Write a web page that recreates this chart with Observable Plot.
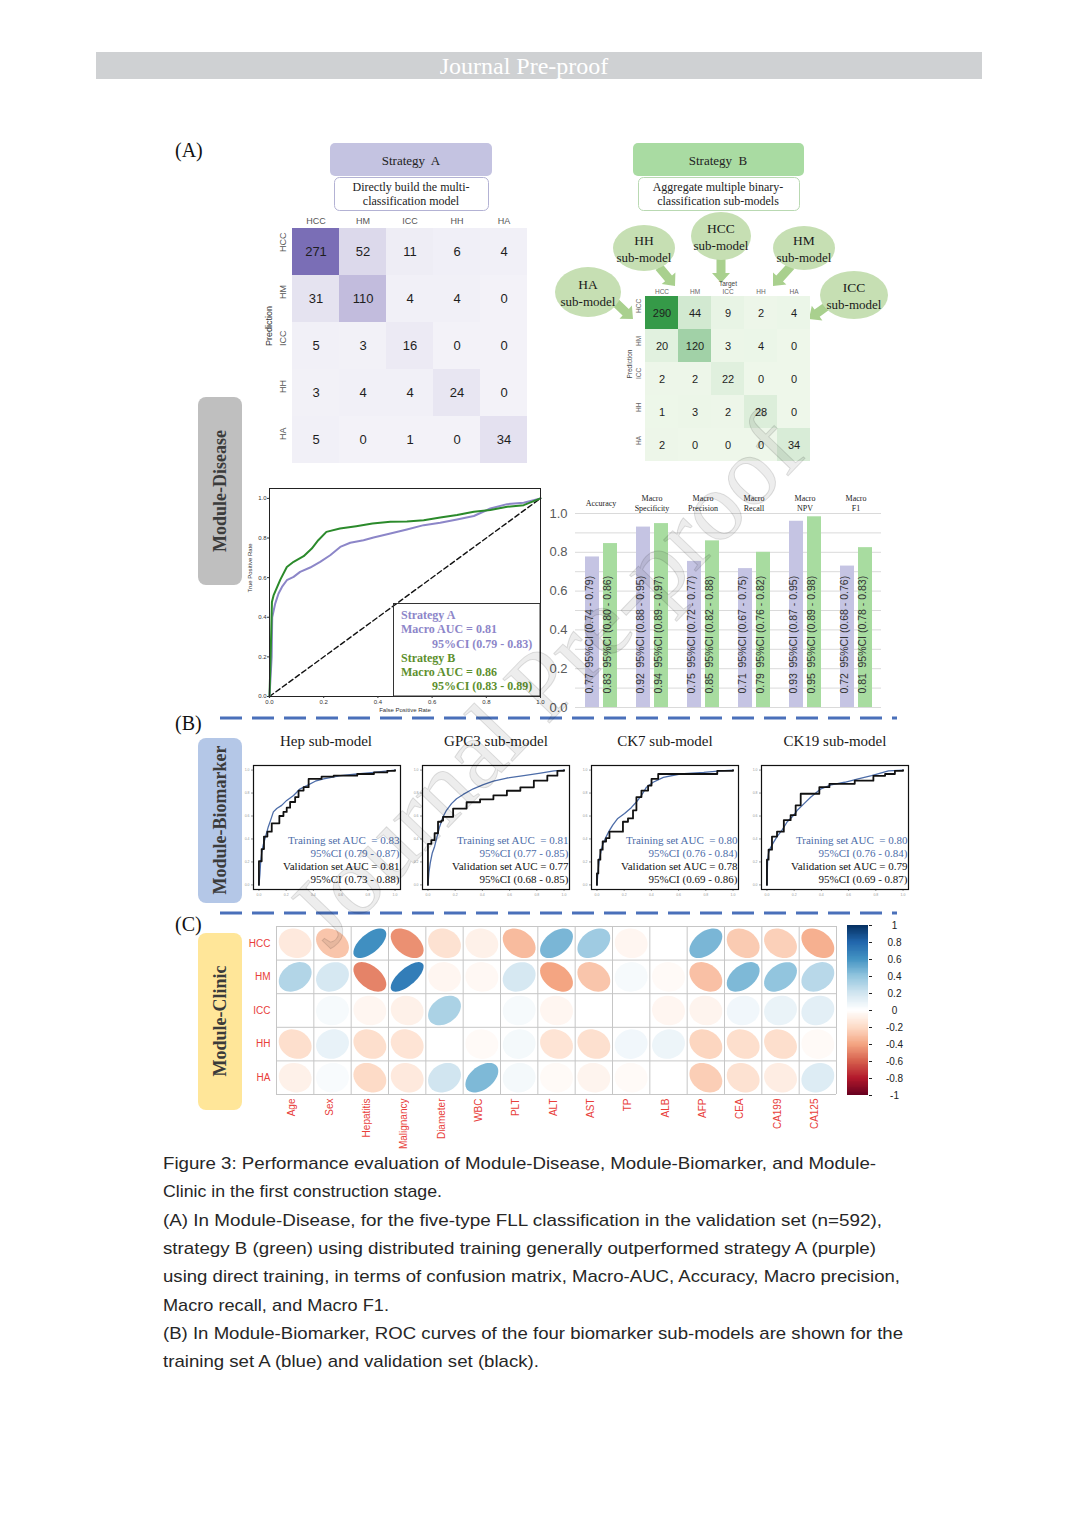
<!DOCTYPE html>
<html><head><meta charset="utf-8">
<script src="https://cdn.jsdelivr.net/npm/d3@7"></script>
<script src="https://cdn.jsdelivr.net/npm/@observablehq/plot@0.6"></script>
<style>
html,body{margin:0;padding:0;background:#fff;}
#page{position:relative;width:1080px;height:1527px;overflow:hidden;background:#fff;}
.box{position:absolute;}
.box svg{display:block;max-width:none;}
svg.layer{position:absolute;left:0;top:0;pointer-events:none;}
</style></head><body><div id="page"></div>
<script>
const SANS = "'Liberation Sans', Arial, sans-serif";
const SERIF = "'Liberation Serif', 'Times New Roman', serif";

// ---------------- DATA ----------------
const classes = ["HCC", "HM", "ICC", "HH", "HA"];
const confA = [[271, 52, 11, 6, 4], [31, 110, 4, 4, 0], [5, 3, 16, 0, 0], [3, 4, 4, 24, 0], [5, 0, 1, 0, 34]];
const confB = [[290, 44, 9, 2, 4], [20, 120, 3, 4, 0], [2, 2, 22, 0, 0], [1, 3, 2, 28, 0], [2, 0, 0, 0, 34]];

const rocTicks = [0, 0.2, 0.4, 0.6, 0.8, 1];
const chance = [0, 1];
const rocA = [[0,0],[0.008,0.2],[0.01,0.40],[0.021,0.469],[0.033,0.519],[0.046,0.553],[0.064,0.587],[0.089,0.604],[0.113,0.629],[0.15,0.651],[0.187,0.68],[0.224,0.713],[0.261,0.755],[0.298,0.776],[0.347,0.789],[0.384,0.803],[0.446,0.823],[0.507,0.843],[0.569,0.865],[0.63,0.877],[0.692,0.894],[0.754,0.911],[0.815,0.949],[0.877,0.971],[0.938,0.978],[1,1]];
const rocB = [[0,0],[0.005,0.25],[0.009,0.477],[0.015,0.51],[0.04,0.59],[0.064,0.654],[0.089,0.68],[0.126,0.708],[0.156,0.747],[0.18,0.789],[0.21,0.831],[0.26,0.848],[0.32,0.86],[0.38,0.873],[0.446,0.882],[0.507,0.884],[0.569,0.89],[0.63,0.904],[0.692,0.916],[0.754,0.933],[0.815,0.941],[0.877,0.958],[0.938,0.966],[1,1]];
const strategyNames = ["Strategy A", "Strategy B"];
const macroAUC = ["0.81", "0.86"];
const macroCI = ["0.79 - 0.83", "0.83 - 0.89"];

const metricKeys = ["Accuracy", "Specificity", "Precision", "Recall", "NPV", "F1"];
const metricLabels = ["Accuracy", "Macro\nSpecificity", "Macro\nPrecision", "Macro\nRecall", "Macro\nNPV", "Macro\nF1"];
const barA = [0.776, 0.93, 0.753, 0.716, 0.96, 0.729];
const barB = [0.845, 0.948, 0.859, 0.80, 0.983, 0.824];
const valA = ["0.77", "0.92", "0.75", "0.71", "0.93", "0.72"];
const valB = ["0.83", "0.94", "0.85", "0.79", "0.95", "0.81"];
const ciA = ["0.74 - 0.79", "0.88 - 0.95", "0.72 - 0.77", "0.67 - 0.75", "0.87 - 0.95", "0.68 - 0.76"];
const ciB = ["0.80 - 0.86", "0.89 - 0.97", "0.82 - 0.88", "0.76 - 0.82", "0.89 - 0.98", "0.78 - 0.83"];
const barTicks = [0, 0.2, 0.4, 0.6, 0.8, 1.0];
const gridTicks = [0, 0.1, 0.2, 0.3, 0.4, 0.5, 0.6, 0.7, 0.8, 0.9, 1.0];

const subNames = ["Hep sub-model", "GPC3 sub-model", "CK7 sub-model", "CK19 sub-model"];
const trainAUC = ["0.83", "0.81", "0.80", "0.80"];
const trainCI = ["0.79 - 0.87", "0.77 - 0.85", "0.76 - 0.84", "0.76 - 0.84"];
const valAUC = ["0.81", "0.77", "0.78", "0.79"];
const valCI = ["0.73 - 0.88", "0.68 - 0.85", "0.69 - 0.86", "0.69 - 0.87"];
const hepTrain = [[0,0],[0.007,0.092],[0.012,0.192],[0.02,0.278],[0.032,0.35],[0.052,0.436],[0.069,0.507],[0.086,0.564],[0.106,0.636],[0.131,0.665],[0.167,0.693],[0.204,0.736],[0.254,0.779],[0.303,0.837],[0.352,0.865],[0.414,0.903],[0.475,0.923],[0.599,0.951],[0.722,0.966],[0.845,0.98],[1,1]];
const hepVal = [[0,0],[0,0.206],[0.02,0.312],[0.037,0.421],[0.062,0.464],[0.094,0.536],[0.15,0.6],[0.18,0.636],[0.204,0.673],[0.229,0.722],[0.266,0.765],[0.291,0.822],[0.328,0.851],[0.365,0.923],[0.46,0.943],[0.549,0.951],[0.722,0.966],[0.845,0.98],[0.943,0.994],[1,1]];
const gpc3Train = [[0,0],[0.007,0.106],[0.017,0.192],[0.032,0.278],[0.049,0.335],[0.067,0.421],[0.086,0.507],[0.111,0.593],[0.136,0.65],[0.173,0.708],[0.21,0.751],[0.259,0.788],[0.333,0.837],[0.407,0.874],[0.481,0.903],[0.58,0.931],[0.704,0.951],[0.827,0.974],[0.926,0.994],[1,1]];
const gpc3Val = [[0,0],[0,0.358],[0.025,0.39],[0.049,0.45],[0.074,0.55],[0.099,0.56],[0.111,0.593],[0.185,0.665],[0.284,0.72],[0.383,0.745],[0.481,0.78],[0.58,0.82],[0.679,0.85],[0.778,0.908],[0.877,0.951],[0.951,0.994],[1,1]];
const ck7Train = [[0,0],[0.007,0.106],[0.017,0.22],[0.03,0.292],[0.042,0.35],[0.062,0.407],[0.087,0.464],[0.116,0.521],[0.153,0.579],[0.203,0.622],[0.252,0.673],[0.29,0.722],[0.327,0.779],[0.364,0.851],[0.413,0.894],[0.488,0.937],[0.611,0.966],[0.785,0.98],[0.908,0.994],[1,1]];
const ck7Val = [[0,0],[0,0.1],[0.01,0.22],[0.025,0.307],[0.042,0.378],[0.067,0.407],[0.092,0.464],[0.191,0.55],[0.228,0.579],[0.265,0.65],[0.29,0.765],[0.327,0.822],[0.376,0.865],[0.401,0.923],[0.45,0.966],[0.884,0.994],[1,1]];
const ck19Train = [[0,0],[0.005,0.22],[0.012,0.278],[0.025,0.321],[0.045,0.364],[0.074,0.421],[0.112,0.479],[0.149,0.55],[0.186,0.593],[0.223,0.65],[0.273,0.708],[0.323,0.765],[0.397,0.837],[0.471,0.871],[0.571,0.894],[0.67,0.923],[0.769,0.951],[0.893,0.994],[1,1]];
const ck19Val = [[0,0],[0,0.22],[0.012,0.307],[0.037,0.421],[0.074,0.464],[0.124,0.564],[0.174,0.607],[0.211,0.693],[0.248,0.794],[0.385,0.851],[0.459,0.88],[0.645,0.908],[0.782,0.95],[0.868,0.966],[0.94,0.994],[1,1]];

const clinVars = ["Age","Sex","Hepatitis","Malignancy","Diameter","WBC","PLT","ALT","AST","TP","ALB","AFP","CEA","CA199","CA125"];
const corrRowNames = ["HCC","HM","ICC","HH","HA"];
const corrHCC = [-0.12,-0.28,0.62,-0.46,-0.16,-0.08,-0.32,0.46,0.36,-0.05,0,0.46,-0.26,-0.24,-0.36];
const corrHM  = [0.3,0.18,-0.5,0.7,-0.05,-0.04,0.18,-0.4,-0.28,0.04,-0.03,-0.3,0.45,0.4,0.28];
const corrICC = [0,0.04,-0.05,-0.08,0.32,0,0.04,-0.05,0,0,-0.05,-0.06,0.06,0.09,0.12];
const corrHH  = [-0.18,0.1,-0.18,-0.15,0,-0.03,0.05,-0.15,-0.17,0.06,0.08,-0.22,-0.18,-0.18,-0.03];
const corrHA  = [-0.08,0.03,-0.2,-0.12,0.2,0.45,0.05,-0.03,-0.06,-0.03,0,-0.25,-0.16,-0.1,0.15];
const corrStops = [-1,-0.8,-0.6,-0.4,-0.2,0,0.2,0.4,0.6,0.8,1];
const corrColors = ["#67001F","#B2182B","#D6604D","#F4A582","#FDDBC7","#FFFFFF","#D1E5F0","#92C5DE","#4393C3","#2166AC","#053061"];
const cbTicks = [1,0.8,0.6,0.4,0.2,0,-0.2,-0.4,-0.6,-0.8,-1];

const captionLines = [
 "Figure 3: Performance evaluation of Module-Disease, Module-Biomarker, and Module-",
 "Clinic in the first construction stage.",
 "(A) In Module-Disease, for the five-type FLL classification in the validation set (n=592),",
 "strategy B (green) using distributed training generally outperformed strategy A (purple)",
 "using direct training, in terms of confusion matrix, Macro-AUC, Accuracy, Macro precision,",
 "Macro recall, and Macro F1.",
 "(B) In Module-Biomarker, ROC curves of the four biomarker sub-models are shown for the",
 "training set A (blue) and validation set (black)."
];

// ---------------- helpers ----------------
const page = document.getElementById("page");
function place(node, left, top, z = 1) {
  const d = document.createElement("div");
  d.className = "box"; d.style.left = left + "px"; d.style.top = top + "px"; d.style.zIndex = z;
  d.appendChild(node); page.appendChild(d);
}
function layer(content, z) {
  const s = document.createElementNS("http://www.w3.org/2000/svg", "svg");
  s.setAttribute("width", 1080); s.setAttribute("height", 1527); s.setAttribute("class", "layer");
  s.style.zIndex = z; s.innerHTML = content; page.appendChild(s);
}
const esc = s => String(s).replace(/&/g, "&amp;").replace(/</g, "&lt;").replace(/>/g, "&gt;");
function T(x, y, str, o = {}) {
  const {size = 12, fill = "#222", family = SERIF, weight = "normal", anchor = "middle", rotate = 0, extra = ""} = o;
  const tr = rotate ? ` transform="rotate(${rotate} ${x} ${y})"` : "";
  return `<text x="${x}" y="${y}" font-size="${size}" fill="${fill}" font-family="${family}" font-weight="${weight}" text-anchor="${anchor}" dominant-baseline="central"${tr}${extra}>${esc(str)}</text>`;
}
function arrow(x1, y1, x2, y2, shaft = 4.5, head = 9, headLen = 10) {
  const dx = x2 - x1, dy = y2 - y1, L = Math.hypot(dx, dy), ux = dx / L, uy = dy / L, px = -uy, py = ux;
  const bx = x2 - ux * headLen, by = y2 - uy * headLen;
  const pts = [[x1 + px * shaft, y1 + py * shaft], [bx + px * shaft, by + py * shaft], [bx + px * head, by + py * head], [x2, y2], [bx - px * head, by - py * head], [bx - px * shaft, by - py * shaft], [x1 - px * shaft, y1 - py * shaft]];
  return `<polygon points="${pts.map(p => p.map(v => v.toFixed(1)).join(",")).join(" ")}" fill="#a9d08e"/>`;
}
const baseStyle = {background: "transparent", fontFamily: SANS, overflow: "visible"};

// ---------------- base decoration layer ----------------
let b = "";
b += `<rect x="96" y="52" width="886" height="27" fill="#cfd1d3"/>`;
b += T(524, 66, "Journal Pre-proof", {size: 24, fill: "#ffffff"});
b += T(175, 150, "(A)", {size: 20, anchor: "start", fill: "#111"});
b += T(175, 723, "(B)", {size: 20, anchor: "start", fill: "#111"});
b += T(175, 924, "(C)", {size: 20, anchor: "start", fill: "#111"});
// Strategy A header
b += `<rect x="330" y="143" width="162" height="33" rx="5" fill="#c4c3e1"/>`;
b += T(411, 160, "Strategy\u00a0 A", {size: 13});
b += `<rect x="334.5" y="177.5" width="154" height="33" rx="5" fill="#fff" stroke="#b3b2d4"/>`;
b += T(411, 187, "Directly build the multi-", {size: 12});
b += T(411, 201, "classification model", {size: 12});
// Strategy B header
b += `<rect x="633" y="143" width="171" height="33" rx="5" fill="#a9dba2"/>`;
b += T(718, 160, "Strategy\u00a0 B", {size: 13});
b += `<rect x="638.5" y="177.5" width="161" height="33" rx="5" fill="#fff" stroke="#b9d9b2"/>`;
b += T(718, 187, "Aggregate multiple binary-", {size: 12});
b += T(718, 201, "classification sub-models", {size: 12});
// sub-model bubbles
const bubbles = [["HH", 644, 248, 31, 23], ["HCC", 721, 236, 30, 24], ["HM", 804, 248, 31, 22], ["HA", 588, 292, 33, 25], ["ICC", 854, 295, 34, 24]];
b += arrow(721, 259, 721, 283);
b += arrow(659, 267, 675, 286);
b += arrow(791, 266, 773, 286);
b += arrow(616, 303, 633, 319);
b += arrow(827, 306, 809, 319);
for (const [nm, cx, cy, rx, ry] of bubbles) {
  b += `<ellipse cx="${cx}" cy="${cy}" rx="${rx}" ry="${ry}" fill="#c6dfb3"/>`;
  b += T(cx, cy - 8, nm, {size: 13.5, fill: "#1a1a1a"});
  b += T(cx, cy + 9, "sub-model", {size: 13, fill: "#1a1a1a"});
}
// Module boxes
b += `<rect x="198" y="397" width="44" height="188" rx="8" fill="#bfbfbf"/>`;
b += T(220, 491, "Module-Disease", {size: 18, weight: "bold", rotate: -90, fill: "#3b3b3b"});
b += `<rect x="198" y="738" width="44" height="165" rx="8" fill="#b4c7e7"/>`;
b += T(220, 820, "Module-Biomarker", {size: 18, weight: "bold", rotate: -90, fill: "#3b3b3b"});
b += `<rect x="198" y="933" width="44" height="177" rx="8" fill="#ffe699"/>`;
b += T(220, 1021, "Module-Clinic", {size: 18, weight: "bold", rotate: -90, fill: "#3b3b3b"});
// dashed separators
b += `<line x1="220" y1="718" x2="897" y2="718" stroke="#4a70ba" stroke-width="3" stroke-dasharray="22 10"/>`;
b += `<line x1="220" y1="913" x2="897" y2="913" stroke="#4a70ba" stroke-width="3" stroke-dasharray="22 10"/>`;
// sub-model titles
const subCenters = [326, 496, 665, 835];
subNames.forEach((nm, i) => { b += T(subCenters[i], 741, nm, {size: 15, fill: "#1a1a1a"}); });
// caption
const capY = [1163, 1191.5, 1220, 1248, 1276.5, 1305, 1333, 1361.5];
const capLen = [713, 279, 719, 713, 737, 226, 740, 376];
captionLines.forEach((ln, i) => {
  b += T(163, capY[i], ln, {size: 17, family: SANS, anchor: "start", fill: "#262626", extra: ` textLength="${capLen[i]}" lengthAdjust="spacingAndGlyphs"`});
});
layer(b, 0);

// ---------------- Confusion matrix A ----------------
const tabA = confA.flatMap((row, i) => row.map((n, j) => ({p: classes[i], t: classes[j], n})));
const cmA = Plot.plot({
  width: 30 + 235 + 4, height: 14 + 235 + 4,
  marginLeft: 30, marginRight: 4, marginTop: 14, marginBottom: 4,
  style: baseStyle,
  x: {domain: classes, padding: 0, axis: null}, y: {domain: classes, padding: 0, axis: null},
  color: {type: "linear", domain: [0, 271], range: ["#f3f2f8", "#7a6eb6"]},
  marks: [
    Plot.cell(tabA, {x: "t", y: "p", fill: "n"}),
    Plot.text(tabA, {x: "t", y: "p", text: "n", fontSize: 13, fill: "#1e1e1e"}),
    Plot.text(classes, {x: d => d, text: d => d, frameAnchor: "top", lineAnchor: "middle", dy: -7, fontSize: 9, fill: "#555"}),
    Plot.text(classes, {y: d => d, text: d => d, frameAnchor: "left", rotate: -90, dx: -9, fontSize: 9, fill: "#555"}),
    Plot.text(["Prediction"], {text: d => d, frameAnchor: "left", rotate: -90, dx: -23, fontSize: 9, fill: "#333"})
  ]
});
place(cmA, 262, 214);

// ---------------- Confusion matrix B ----------------
const tabB = confB.flatMap((row, i) => row.map((n, j) => ({p: classes[i], t: classes[j], n})));
const cmB = Plot.plot({
  width: 20 + 165 + 4, height: 14 + 166 + 4,
  marginLeft: 20, marginRight: 4, marginTop: 14, marginBottom: 4,
  style: baseStyle,
  x: {domain: classes, padding: 0, axis: null}, y: {domain: classes, padding: 0, axis: null},
  color: {type: "linear", domain: [0, 290], range: ["#eef7ea", "#359a48"]},
  marks: [
    Plot.cell(tabB, {x: "t", y: "p", fill: "n"}),
    Plot.text(tabB, {x: "t", y: "p", text: "n", fontSize: 11, fill: "#1e1e1e"}),
    Plot.text(classes, {x: d => d, text: d => d, frameAnchor: "top", lineAnchor: "middle", dy: -4, fontSize: 6.5, fill: "#666"}),
    Plot.text(["Target"], {text: d => d, frameAnchor: "top", lineAnchor: "middle", dy: -12, fontSize: 6.5, fill: "#444"}),
    Plot.text(classes, {y: d => d, text: d => d, frameAnchor: "left", rotate: -90, dx: -7, fontSize: 6.5, fill: "#666"}),
    Plot.text(["Prediction"], {text: d => d, frameAnchor: "left", rotate: -90, dx: -16, fontSize: 6.5, fill: "#444"})
  ]
});
place(cmB, 625, 281);

// ---------------- ROC (macro) ----------------
const rocPlot = Plot.plot({
  width: 297, height: 234, marginLeft: 22, marginRight: 4, marginTop: 4, marginBottom: 22,
  style: baseStyle,
  x: {domain: [0, 1]}, y: {domain: [0, 1.05]},
  marks: [
    Plot.line(chance, {x: d => d, y: d => d, stroke: "#111", strokeWidth: 1.4, strokeDasharray: "5,3"}),
    Plot.line(rocA, {x: d => d[0], y: d => d[1], stroke: "#8c86c8", strokeWidth: 2}),
    Plot.line(rocB, {x: d => d[0], y: d => d[1], stroke: "#2b8a2b", strokeWidth: 2}),
    Plot.frame({stroke: "#222"}),
    Plot.axisX({ticks: rocTicks, tickFormat: d => d.toFixed(1), tickSize: 2, tickPadding: 1, fontSize: 6, label: null, color: "#333"}),
    Plot.axisY({ticks: rocTicks, tickFormat: d => d.toFixed(1), tickSize: 2, tickPadding: 1, fontSize: 6, label: null, color: "#333"}),
    Plot.text(["False Positive Rate"], {text: d => d, frameAnchor: "bottom", dy: 15, fontSize: 6, fill: "#333"}),
    Plot.text(["True Positive Rate"], {text: d => d, frameAnchor: "left", rotate: -90, dx: -19, fontSize: 6, fill: "#333"})
  ]
});
place(rocPlot, 247, 484);

// ---------------- Bar chart of metrics ----------------
const barData = metricKeys.flatMap((m, i) => [
  {metric: m, s: "A", h: barA[i], v: valA[i], ci: "95%CI (" + ciA[i] + ")"},
  {metric: m, s: "B", h: barB[i], v: valB[i], ci: "95%CI (" + ciB[i] + ")"}
]);
const labelData = metricKeys.map((m, i) => ({metric: m, label: metricLabels[i]}));
const barPlot = Plot.plot({
  width: 344, height: 221, marginLeft: 33, marginRight: 2, marginTop: 23, marginBottom: 4,
  style: baseStyle,
  fx: {domain: metricKeys, padding: 0, axis: null},
  x: {domain: ["A", "B"], paddingInner: 0.235, paddingOuter: 0.52, axis: null},
  y: {domain: [0, 1]},
  color: {domain: ["A", "B"], range: ["#c5c4e3", "#a8dca0"]},
  marks: [
    Plot.ruleY(gridTicks, {stroke: "#dadada"}),
    Plot.barY(barData, {fx: "metric", x: "s", y: "h", fill: "s"}),
    Plot.text(barData, {fx: "metric", x: "s", text: "v", frameAnchor: "bottom", rotate: -90, textAnchor: "start", dy: -14, fontSize: 10.5, fill: "#333"}),
    Plot.text(barData, {fx: "metric", x: "s", text: "ci", frameAnchor: "bottom", rotate: -90, textAnchor: "start", dy: -40, fontSize: 10.5, fill: "#333"}),
    Plot.text(labelData, {fx: "metric", text: "label", frameAnchor: "top", lineAnchor: "middle", dy: -11, fontSize: 8, lineHeight: 1.25, fontFamily: SERIF, fill: "#222"}),
    Plot.axisY({ticks: barTicks, tickFormat: d => d.toFixed(1), tickSize: 0, tickPadding: 8, fontSize: 13, color: "#5a5a5a", label: null})
  ]
});
place(barPlot, 540, 490);

// ---------------- Biomarker sub-model ROC curves ----------------
const subTrain = [hepTrain, gpc3Train, ck7Train, ck19Train];
const subVal = [hepVal, gpc3Val, ck7Val, ck19Val];
const frameLefts = [253, 422, 591, 761];
subNames.forEach((nm, i) => {
  const p = Plot.plot({
    width: 12 + 147 + 3, height: 3 + 124 + 12,
    marginLeft: 12, marginRight: 3, marginTop: 3, marginBottom: 12,
    style: baseStyle,
    x: {domain: [-0.04, 1.04]}, y: {domain: [-0.04, 1.04]},
    marks: [
      Plot.axisX({ticks: rocTicks, tickFormat: d => d.toFixed(1), tickSize: 2, tickPadding: 2, fontSize: 3.5, color: "#999", label: null}),
      Plot.axisY({ticks: rocTicks, tickFormat: d => d.toFixed(1), tickSize: 2, tickPadding: 2, fontSize: 3.5, color: "#999", label: null}),
      Plot.line(subTrain[i], {x: d => d[0], y: d => d[1], stroke: "#4c6ca8", strokeWidth: 1.3}),
      Plot.line(subVal[i], {x: d => d[0], y: d => d[1], curve: "step-after", stroke: "#111", strokeWidth: 1.8}),
      Plot.frame({stroke: "#111", strokeWidth: 1.2}),
      Plot.text(["Training set AUC\u00a0 = " + trainAUC[i]], {text: d => d, frameAnchor: "bottom-right", textAnchor: "end", dx: -1, dy: -46, fontSize: 11, fontFamily: SERIF, fill: "#4c6ca8"}),
      Plot.text(["95%CI (" + trainCI[i] + ")"], {text: d => d, frameAnchor: "bottom-right", textAnchor: "end", dx: -1, dy: -33, fontSize: 11, fontFamily: SERIF, fill: "#4c6ca8"}),
      Plot.text(["Validation set AUC = " + valAUC[i]], {text: d => d, frameAnchor: "bottom-right", textAnchor: "end", dx: -1, dy: -20, fontSize: 11, fontFamily: SERIF, fill: "#111"}),
      Plot.text(["95%CI (" + valCI[i] + ")"], {text: d => d, frameAnchor: "bottom-right", textAnchor: "end", dx: -1, dy: -7, fontSize: 11, fontFamily: SERIF, fill: "#111"})
    ]
  });
  place(p, frameLefts[i] - 12, 762);
});

// ---------------- Correlation ellipse plot ----------------
const corrRows = [corrHCC, corrHM, corrICC, corrHH, corrHA];
const ellPts = [];
corrRows.forEach((vals, j) => vals.forEach((r, i) => {
  const a = Math.acos(r) / 2;
  for (let k = 0; k < 48; k++) {
    const t = 2 * Math.PI * k / 48;
    ellPts.push({id: j * 15 + i, r, x: i + 0.5 + 0.44 * Math.cos(t + a), y: 4.5 - j + 0.44 * Math.cos(t - a)});
  }
}));
const corrColor = {type: "linear", domain: corrStops, range: corrColors};
const corrPlot = Plot.plot({
  width: 602, height: 212, marginLeft: 40, marginRight: 2, marginTop: 2, marginBottom: 42,
  style: baseStyle,
  x: {domain: [0, 15], axis: null}, y: {domain: [0, 5], axis: null},
  color: corrColor,
  marks: [
    Plot.line(ellPts, {x: "x", y: "y", z: "id", fill: "r", stroke: "none", curve: "linear-closed"}),
    Plot.ruleX(d3.range(16), {stroke: "#c6c6c6"}),
    Plot.ruleY(d3.range(6), {stroke: "#c6c6c6"}),
    Plot.text(clinVars, {x: (d, i) => i + 0.5, text: d => d, frameAnchor: "bottom", rotate: -90, textAnchor: "end", dy: 4, fill: "#e8403a", fontSize: 10}),
    Plot.text(corrRowNames, {y: (d, i) => 4.5 - i, text: d => d, frameAnchor: "left", textAnchor: "end", dx: -6, fill: "#e8403a", fontSize: 10})
  ]
});
place(corrPlot, 236, 924);

// colour bar
const cbSteps = d3.range(-1, 1, 0.01);
const cbPlot = Plot.plot({
  width: 64, height: 182, marginLeft: 2, marginRight: 41, marginTop: 6, marginBottom: 6,
  style: baseStyle,
  x: {domain: [0, 1], axis: null}, y: {domain: [-1, 1]},
  color: corrColor,
  marks: [
    Plot.rect(cbSteps, {x1: 0, x2: 1, y1: d => d, y2: d => d + 0.0105, fill: d => d + 0.005, shapeRendering: "crispEdges"}),
    Plot.axisY({anchor: "right", ticks: cbTicks, tickFormat: d => String(+d.toFixed(1)), tickSize: 3, tickPadding: 23, textAnchor: "middle", fontSize: 10, color: "#222", label: null})
  ]
});
place(cbPlot, 845, 919);

// ---------------- overlay: ROC legend + watermark ----------------
let o = "";
o += `<rect x="393.5" y="603.5" width="146.5" height="92.5" fill="none" stroke="#333" stroke-width="1"/>`;
const legCol = ["#8d86c9", "#5d8f2e"];
strategyNames.forEach((nm, i) => {
  const y0 = 615 + i * 42.5;
  o += T(401, y0, nm, {size: 12, weight: "bold", anchor: "start", fill: legCol[i]});
  o += T(401, y0 + 14, "Macro AUC = " + macroAUC[i], {size: 12, weight: "bold", anchor: "start", fill: legCol[i]});
  o += T(432, y0 + 28.5, "95%CI (" + macroCI[i] + ")", {size: 12, weight: "bold", anchor: "start", fill: legCol[i]});
});
o += `<text x="545" y="680" transform="rotate(-46 545 680)" font-size="98" font-family="${SERIF}" text-anchor="middle" dominant-baseline="central" fill="#000" fill-opacity="0.07" stroke="#000" stroke-opacity="0.12" stroke-width="1">Journal Pre-proof</text>`;
layer(o, 10);
</script></body></html>
